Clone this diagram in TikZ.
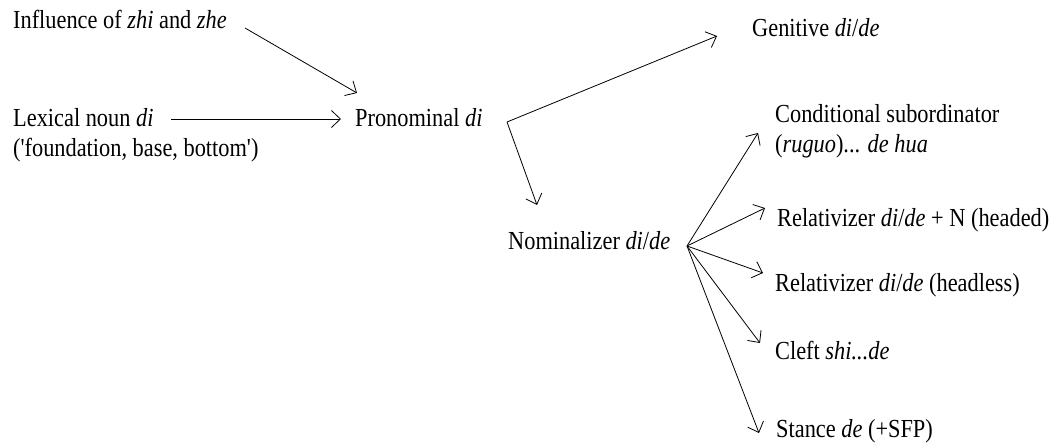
\documentclass[tikz,border=0pt]{standalone}
\usepackage{fontspec}
\setmainfont{Liberation Serif}
\usetikzlibrary{arrows.meta}
\begin{document}
\begin{tikzpicture}[x=1pt,y=-1pt,
  lbl/.style={anchor=base west,inner sep=0pt,xscale=0.86,align=left,
    font=\fontsize{26}{30}\selectfont},
  conn/.style={line width=0.8pt,-{Straight Barb[length=9pt,width=17pt,line width=0.8pt]}}]
\useasboundingbox (0,0) rectangle (1060,443);
% text nodes (multi-line nodes are placed by the baseline of their last line)
\node[lbl] (inf) at (13,29) {Influence of \textit{zhi} and \textit{zhe}};
\node[lbl] (lex) at (13,157) {Lexical noun \textit{di}\\(\textquotesingle foundation, base, bottom\textquotesingle)};
\node[lbl] (pro) at (355,127) {Pronominal \textit{di}};
\node[lbl] (gen) at (752,37) {Genitive \textit{di}/\textit{de}};
\node[lbl] (nom) at (508,250) {Nominalizer \textit{di}/\textit{de}};
\node[lbl] (cond) at (775,153) {Conditional subordinator\\(\textit{ruguo})... \textit{de hua}};
\node[lbl] (relh) at (777,227) {Relativizer \textit{di}/\textit{de} + N (headed)};
\node[lbl] (rell) at (775,292) {Relativizer \textit{di}/\textit{de} (headless)};
\node[lbl] (cleft) at (775,360) {Cleft \textit{shi...de}};
\node[lbl] (stance) at (776,437) {Stance \textit{de} (+SFP)};
% connector points
\coordinate (infE) at (245,28);
\coordinate (infT) at (357,93);
\coordinate (lexE) at (171,119);
\coordinate (lexT) at (341,119);
\coordinate (corner) at (507,122);
\coordinate (genT) at (717,36);
\coordinate (nomT) at (537,205);
\coordinate (fan) at (687,246);
\coordinate (condT) at (758,133);
\coordinate (relhT) at (765,208);
\coordinate (rellT) at (763,273);
\coordinate (cleftT) at (760,343);
\coordinate (stanceT) at (759,433);
% connectors
\draw[conn] (infE) -- (infT);
\draw[conn] (lexE) -- (lexT);
\draw[conn] (corner) -- (genT);
\draw[conn] (corner) -- (nomT);
\draw[conn] (fan) -- (condT);
\draw[conn] (fan) -- (relhT);
\draw[conn] (fan) -- (rellT);
\draw[conn] (fan) -- (cleftT);
\draw[conn] (fan) -- (stanceT);
\end{tikzpicture}
\end{document}
